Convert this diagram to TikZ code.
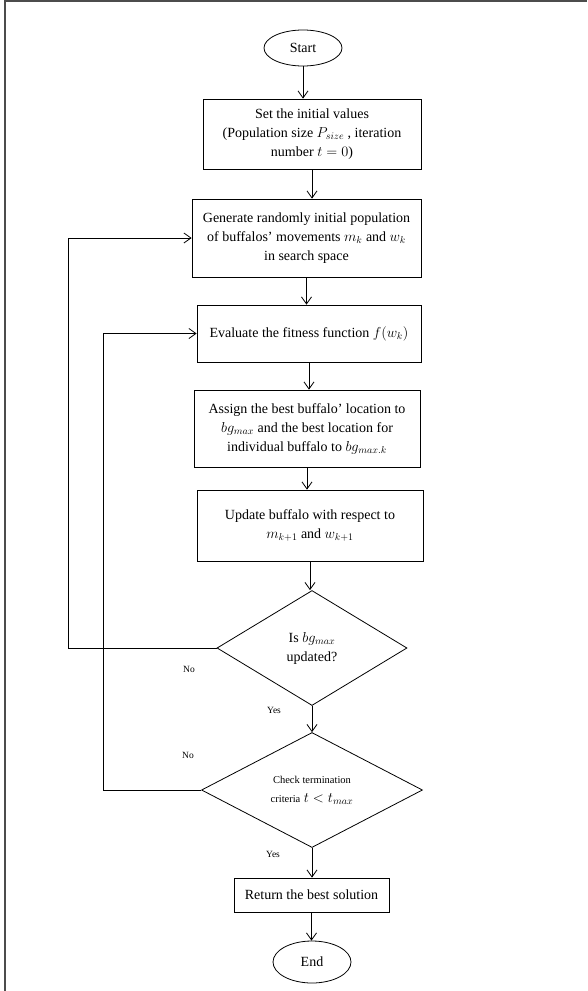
\documentclass[tikz,border=0pt]{standalone}
\usepackage{fontspec}
\setmainfont{Liberation Serif}
\usetikzlibrary{shapes.geometric, arrows.meta}

\begin{document}
\begin{tikzpicture}[x=1pt, y=-1pt, line width=0.8pt,
  every node/.style={font=\fontsize{14}{19}\selectfont, align=center, inner sep=1pt},
  procbox/.style={draw, rectangle},
  termnode/.style={draw, ellipse},
  decnode/.style={draw, diamond, inner sep=0pt},
  flow/.style={-{Straight Barb[length=7pt, width=10pt]}},
  branch/.style={font=\fontsize{9.5}{11}\selectfont}]
  \useasboundingbox (0,0) rectangle (587,991);
  % page frame (cut off at right and bottom)
  \draw[line width=1.3pt, black!70] (5,991) -- (5,1) -- (587,1);

  \node[termnode, minimum width=78pt, minimum height=36pt] (start) at (303,48) {Start};
  \node[procbox, minimum width=218pt, minimum height=70pt] (set) at (312,134)
    {Set the initial values\\(Population size $P_{size}$ , iteration\\number $t = 0$)};
  \node[procbox, minimum width=229pt, minimum height=78pt] (gen) at (306.5,238)
    {Generate randomly initial population\\of buffalos' movements $m_k$ and $w_k$\\in search space};
  \node[procbox, minimum width=224pt, minimum height=57pt] (eval) at (309,333.5)
    {Evaluate the fitness function $f(w_k)$};
  \node[procbox, minimum width=226pt, minimum height=77pt] (assign) at (307,428.5)
    {Assign the best buffalo' location to\\$bg_{max}$ and the best location for\\individual buffalo to $bg_{max.k}$};
  \node[procbox, minimum width=226pt, minimum height=71pt] (update) at (310,525.5)
    {Update buffalo with respect to\\$m_{k+1}$ and $w_{k+1}$};
  \node[decnode, aspect=1.65, minimum width=190pt, minimum height=115pt] (dec1) at (312,648)
    {Is $bg_{max}$\\updated?};
  \node[decnode, aspect=1.9, minimum width=221pt, minimum height=115pt] (dec2) at (312,790)
    {{\fontsize{10.5}{12}\selectfont Check termination}\\{\fontsize{10.5}{12}\selectfont criteria} $t < t_{max}$};
  \node[procbox, minimum width=155pt, minimum height=34pt] (ret) at (311.5,895)
    {Return the best solution};
  \node[termnode, minimum width=78pt, minimum height=42pt] (end) at (312,962) {End};

  \node[branch] (noA) at (189,669) {No};
  \node[branch] (yesA) at (274,710) {Yes};
  \node[branch] (noB) at (188,755) {No};
  \node[branch] (yesB) at (273,854) {Yes};

  \coordinate (lpA) at (68,648);
  \coordinate (lpB) at (103,790);

  \draw[flow] (start.south) -- (start.south |- set.north);
  \draw[flow] (set.south) -- (set.south |- gen.north);
  \draw[flow] (gen.south) -- (gen.south |- eval.north);
  \draw[flow] (eval.south) -- (eval.south |- assign.north);
  \draw[flow] (assign.south) -- (assign.south |- update.north);
  \draw[flow] (update.south) -- (update.south |- dec1.north);
  \draw[flow] (dec1.south) -- (dec2.north);
  \draw[flow] (dec2.south) -- (dec2.south |- ret.north);
  \draw[flow] (ret.south) -- (ret.south |- end.north);
  % loops back
  \draw[flow] (dec1.west) -- (lpA) |- (gen.west);
  \draw[flow] (dec2.west) -- (lpB) |- (eval.west);
\end{tikzpicture}
\end{document}
